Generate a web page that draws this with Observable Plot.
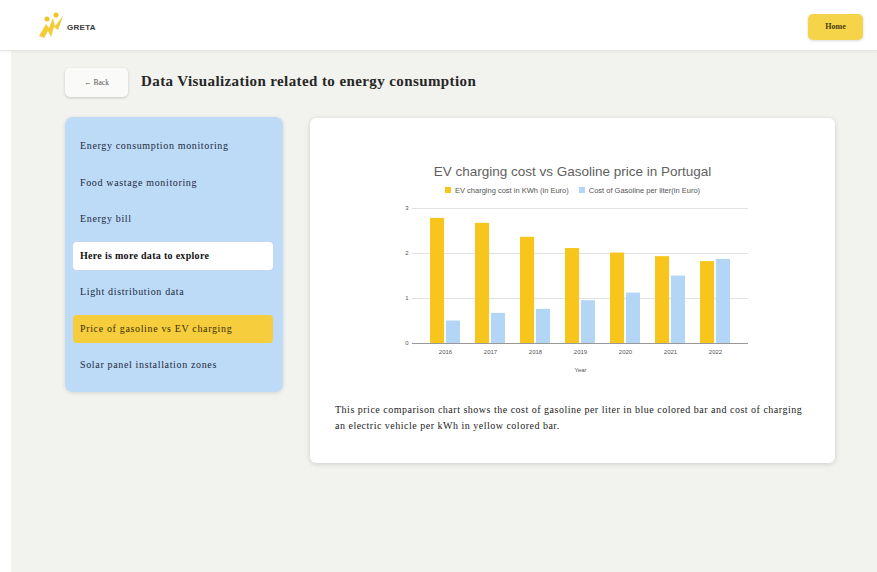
<!DOCTYPE html>
<html>
<head>
<meta charset="utf-8">
<script src="https://cdn.jsdelivr.net/npm/d3@7"></script>
<script src="https://cdn.jsdelivr.net/npm/@observablehq/plot@0.6"></script>
<style>
  html, body { margin:0; padding:0; width:877px; height:572px; background:#fff; overflow:hidden; font-family:"Liberation Serif", serif; }
  #header { position:absolute; left:0; top:0; width:877px; height:50px; background:#fff; border-bottom:1px solid #e6e6e2; box-shadow:0 1px 2px rgba(0,0,0,0.05); z-index:2; }
  #main { position:absolute; left:11px; top:51px; right:0; bottom:0; background:#f2f2ee; }
  .abs { position:absolute; }
  #logo { left:36px; top:10px; width:30px; height:30px; }
  #logotext { left:67px; top:23px; font-family:"Liberation Sans", Arial, sans-serif; font-size:8px; font-weight:bold; color:#3a3a3a; letter-spacing:0.3px; }
  #home { left:808px; top:14px; width:55px; height:26px; background:#f5d449; border-radius:5px; box-shadow:0 1px 3px rgba(0,0,0,0.15); font-size:8px; font-weight:bold; color:#4a3b10; text-align:center; line-height:26px; }
  #back { left:65px; top:68px; width:63px; height:29px; background:#fafaf8; border-radius:5px; box-shadow:0 1px 3px rgba(0,0,0,0.18); font-size:7.5px; color:#555; line-height:29px; text-align:center; }
  #pagetitle { left:141px; top:73px; font-size:15px; letter-spacing:0.4px; font-weight:bold; color:#262626; white-space:nowrap; }
  #sidebar { left:65px; top:117px; width:218px; height:275px; background:#bddbf7; border-radius:8px; box-shadow:0 1px 4px rgba(0,0,0,0.12); }
  .item { position:absolute; left:8px; width:200px; height:28px; border-radius:4px; font-size:10px; letter-spacing:0.65px; color:#1c2940; line-height:28px; white-space:nowrap; }
  .item span { margin-left:7px; }
  .sel { background:#ffffff; font-weight:bold; letter-spacing:0.3px; color:#111; }
  .hl { background:#f6cd3d; color:#3a2f05; }
  #card { left:310px; top:118px; width:525px; height:345px; background:#fff; border-radius:6px; box-shadow:0 1px 5px rgba(0,0,0,0.16); }
  #ctitle { left:0; width:525px; top:46px; text-align:center; font-family:"Liberation Sans", Arial, sans-serif; font-size:13.5px; color:#5f5f5f; }
  #legend { left:0; width:525px; top:68px; text-align:center; font-family:"Liberation Sans", Arial, sans-serif; font-size:7.5px; color:#555; white-space:nowrap; }
  .sw { display:inline-block; width:6px; height:6px; vertical-align:0px; margin-right:4px; }
  .lg { display:inline-block; margin:0 5px; }
  #chart { left:70px; top:82px; }
  #desc { left:25px; top:284px; width:500px; font-size:10px; letter-spacing:0.5px; line-height:16px; color:#222; }
</style>
</head>
<body>
<div id="header">
  <svg id="logo" class="abs" viewBox="0 0 30 30">
    <path d="M3 26 L10 14 L13 18 L17 8 L19 16 L27 6 L22 20 L18 17 L15 27 L12 21 L8 28 Z" fill="#f3c523" opacity="0.9"/>
    <circle cx="11" cy="9" r="2.5" fill="#f3c523"/>
    <circle cx="20" cy="5" r="2.5" fill="#f3c523"/>
  </svg>
  <div id="logotext" class="abs">GRETA</div>
  <div id="home" class="abs">Home</div>
</div>
<div id="main"></div>
<div id="back" class="abs">&#8592; Back</div>
<div id="pagetitle" class="abs">Data Visualization related to energy consumption</div>
<div id="sidebar" class="abs"></div>
<div id="card" class="abs">
  <div id="ctitle" class="abs"></div>
  <div id="legend" class="abs"></div>
  <div id="chart" class="abs"></div>
  <div id="desc" class="abs">This price comparison chart shows the cost of gasoline per liter in blue colored bar and cost of charging<br>an electric vehicle per kWh in yellow colored bar.</div>
</div>
<script>
// ---- data ----
const chartTitle = "EV charging cost vs Gasoline price in Portugal";
const years = ["2016", "2017", "2018", "2019", "2020", "2021", "2022"];
const seriesNames = ["EV charging cost in KWh (in Euro)", "Cost of Gasoline per liter(in Euro)"];
const evCost = [2.78, 2.67, 2.36, 2.11, 2.01, 1.93, 1.82];
const gasCost = [0.50, 0.67, 0.76, 0.95, 1.12, 1.50, 1.87];
const yTicks = [0, 1, 2, 3];
const seriesColors = ["#f8c51c", "#b3d5f6"];
const menuItems = ["Energy consumption monitoring", "Food wastage monitoring", "Energy bill", "Here is more data to explore", "Light distribution data", "Price of gasoline vs EV charging", "Solar panel installation zones"];
const xLabel = "Year";

// ---- sidebar ----
const sb = document.getElementById("sidebar");
menuItems.forEach((t, i) => {
  const d = document.createElement("div");
  d.className = "item" + (i === 3 ? " sel" : "") + (i === 5 ? " hl" : "");
  d.style.top = (15 + i * 36.5) + "px";
  const s = document.createElement("span");
  s.textContent = t;
  d.appendChild(s);
  sb.appendChild(d);
});

// ---- title & legend ----
document.getElementById("ctitle").textContent = chartTitle;
const lg = document.getElementById("legend");
seriesNames.forEach((n, i) => {
  const w = document.createElement("span");
  w.className = "lg";
  const sw = document.createElement("span");
  sw.className = "sw";
  sw.style.background = seriesColors[i];
  w.appendChild(sw);
  w.appendChild(document.createTextNode(n));
  lg.appendChild(w);
});

// ---- chart ----
const rows = years.flatMap((y, i) => [
  {year: y, series: seriesNames[0], value: evCost[i]},
  {year: y, series: seriesNames[1], value: gasCost[i]}
]);
const W = 380, H = 180, ml = 32, mr = 12, mt = 8, mb = 37;
const padIn = 0.33, padOut = 0.32;
const bw = d3.scaleBand().domain(years).range([ml, W - mr]).paddingInner(padIn).paddingOuter(padOut).bandwidth();

const plot = Plot.plot({
  width: W, height: H,
  marginLeft: ml, marginRight: mr, marginTop: mt, marginBottom: mb,
  style: {fontFamily: "'Liberation Sans', Arial, sans-serif", fontSize: "6px", color: "#555", background: "transparent"},
  x: {domain: years, paddingInner: padIn, paddingOuter: padOut, label: xLabel, labelAnchor: "center", labelOffset: 28, tickSize: 0, tickPadding: 6},
  y: {domain: [0, 3], ticks: yTicks, tickFormat: d => String(d), tickSize: 0, tickPadding: 4, label: null},
  color: {domain: seriesNames, range: seriesColors},
  marks: [
    Plot.ruleY(yTicks, {stroke: "#e2e2e2"}),
    Plot.barY(rows.filter(d => d.series === seriesNames[0]), {x: "year", y: "value", fill: "series", insetRight: bw / 2 + 0.5}),
    Plot.barY(rows.filter(d => d.series === seriesNames[1]), {x: "year", y: "value", fill: "series", insetLeft: bw / 2 + 0.5}),
    Plot.ruleY([0], {stroke: "#999"})
  ]
});
document.getElementById("chart").appendChild(plot);
</script>
</body>
</html>
